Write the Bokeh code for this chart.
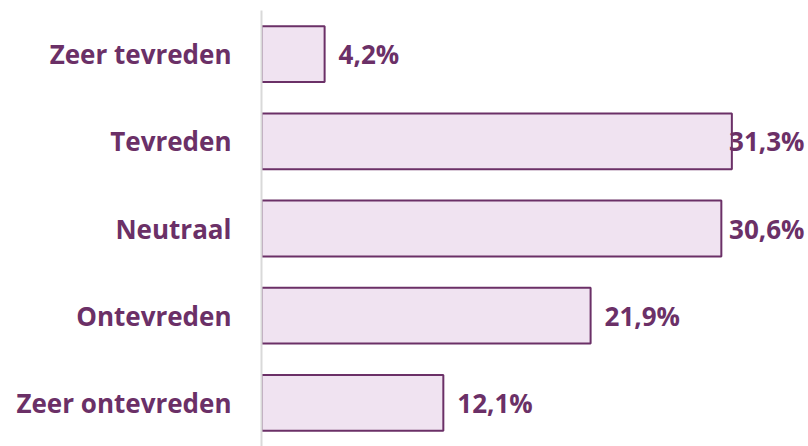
import numpy as np
from bokeh.plotting import figure
from bokeh.models import Range1d, ColumnDataSource
from bokeh.core.properties import value
from bokeh.embed import file_html
from bokeh.resources import INLINE

categories = ["Zeer tevreden", "Tevreden", "Neutraal", "Ontevreden", "Zeer ontevreden"]
values = [4.2, 31.3, 30.6, 21.9, 12.1]
labels = ["4,2%", "31,3%", "30,6%", "21,9%", "12,1%"]

PURPLE = "#6B3067"
FILL = "#F0E3F1"
FONT = "Open Sans"
X_END = 36.4
CLAMP = 27

p = figure(width=808, height=446, output_backend="svg", toolbar_location=None,
           y_range=list(reversed(categories)), x_range=Range1d(0, X_END),
           min_border_left=261, min_border_top=10, min_border_bottom=0, min_border_right=0)
p.outline_line_color = None
p.grid.grid_line_color = None
p.background_fill_color = "white"
p.xaxis.visible = False

src = ColumnDataSource(dict(cat=categories, val=values, lab=labels))
p.hbar(y="cat", right="val", left=0, height=0.64, source=src,
       fill_color=FILL, line_color=PURPLE, line_width=2)

vals = np.array(values)
norm = vals <= CLAMP
src_n = ColumnDataSource(dict(cat=[c for c, k in zip(categories, norm) if k],
                              x=list(vals[norm]),
                              lab=[l for l, k in zip(labels, norm) if k]))
src_c = ColumnDataSource(dict(cat=[c for c, k in zip(categories, norm) if not k],
                              x=[X_END] * int((~norm).sum()),
                              lab=[l for l, k in zip(labels, norm) if not k]))
p.text(x="x", y="cat", text="lab", source=src_n, x_offset=14, text_align="left",
       text_baseline="middle", text_font=value(FONT), text_font_style="bold",
       text_font_size="26px", text_color=PURPLE)
p.text(x="x", y="cat", text="lab", source=src_c, x_offset=-4, text_align="right",
       text_baseline="middle", text_font=value(FONT), text_font_style="bold",
       text_font_size="26px", text_color=PURPLE)

ax = p.yaxis[0]
ax.axis_line_color = "#D9D9D9"
ax.axis_line_width = 2
ax.major_tick_line_color = None
ax.minor_tick_line_color = None
ax.major_tick_out = 0
ax.major_tick_in = 0
ax.major_label_standoff = 30
ax.major_label_text_font = FONT
ax.major_label_text_font_style = "bold"
ax.major_label_text_font_size = "26px"
ax.major_label_text_color = PURPLE

open("out.html", "w").write(file_html(p, INLINE))
